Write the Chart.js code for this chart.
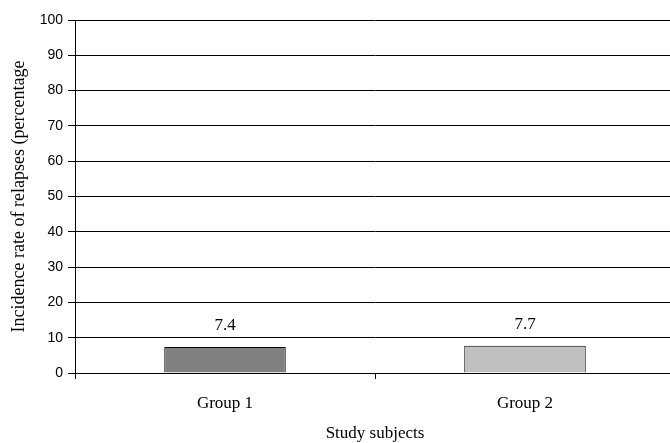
<!DOCTYPE html>
<html>
<head>
<meta charset="utf-8">
<script src="https://cdn.jsdelivr.net/npm/chart.js@4/dist/chart.umd.min.js"></script>
<style>
  html, body { margin: 0; padding: 0; background: #fff; overflow: hidden; width: 670px; height: 443px; }
  #wrap { width: 675px; height: 443px; position: relative; }
</style>
</head>
<body>
<div id="wrap"><canvas id="chart"></canvas></div>
<script>
// Relapse incidence (%) by study group
const categories = ['Group 1', 'Group 2'];
const relapseRate = [7.4, 7.7];
const yTicks = [0, 10, 20, 30, 40, 50, 60, 70, 80, 90, 100];

const serif = '"Liberation Serif", "Times New Roman", serif';
const sans = '"Liberation Sans", Arial, sans-serif';

// Prints each bar's value above it
const valueLabels = {
  id: 'valueLabels',
  afterDatasetsDraw(chart) {
    const ctx = chart.ctx;
    const meta = chart.getDatasetMeta(0);
    ctx.save();
    ctx.font = '17px ' + serif;
    ctx.fillStyle = '#000';
    ctx.textAlign = 'center';
    ctx.textBaseline = 'middle';
    meta.data.forEach((bar, i) => {
      ctx.fillText(String(chart.data.datasets[0].data[i]), bar.x, bar.y - 21);
    });
    ctx.restore();
  }
};

new Chart(document.getElementById('chart'), {
  type: 'bar',
  data: {
    labels: categories,
    datasets: [{
      data: relapseRate,
      backgroundColor: ['#808080', '#c0c0c0'],
      borderColor: '#000',
      borderWidth: 1,
      borderSkipped: 'start',
      categoryPercentage: 1,
      barPercentage: 0.405
    }]
  },
  options: {
    responsive: true,
    maintainAspectRatio: false,
    animation: false,
    layout: { padding: { top: 20, left: 0, right: 0, bottom: 0 } },
    plugins: { legend: { display: false }, tooltip: { enabled: false } },
    scales: {
      x: {
        offset: true,
        grid: { offset: true, drawOnChartArea: false, drawTicks: true, tickLength: 6, color: '#000' },
        border: { color: '#000', width: 1 },
        ticks: { color: '#000', font: { family: serif, size: 17 }, padding: 14 },
        title: { display: true, text: 'Study subjects', color: '#000', font: { family: serif, size: 17 }, padding: { top: 0, bottom: -1 } },
        afterFit(scale) { scale.height = 70; }
      },
      y: {
        min: 0,
        max: 100,
        afterBuildTicks(scale) { scale.ticks = yTicks.map(v => ({ value: v })); },
        grid: { color: '#000', tickLength: 7, drawTicks: true },
        border: { color: '#000', width: 1 },
        ticks: { color: '#000', font: { family: sans, size: 14 }, padding: 5 },
        title: { display: true, text: 'Incidence rate of relapses (percentage', color: '#000', font: { family: serif, size: 18 }, padding: { top: 8, bottom: 0 } },
        afterFit(scale) { scale.width = 75; }
      }
    }
  },
  plugins: [valueLabels]
});
</script>
</body>
</html>
